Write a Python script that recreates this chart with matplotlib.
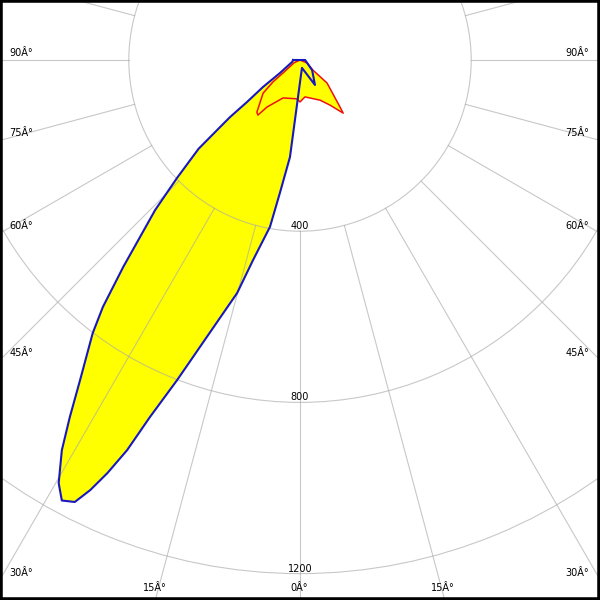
import numpy as np
import matplotlib
matplotlib.use("Agg")
import matplotlib.pyplot as plt

# photometric data, gamma angle (deg from nadir) and intensity (cd)
# C0 half (drawn to the left), from 90 deg down to 0
c0_ang = [90, 76, 57, 53.9, 51.6, 50.8, 50.0, 48.8, 46.2, 44.0, 40.5, 38.6, 37.2,
          34.5, 32.8, 31.4, 29.7, 28.4, 27.0, 26.0, 25.0, 23.9, 22.8, 21.0, 18.6,
          15.1, 13.2, 10.2, 8.6, 5.9, 0]
c0_cd = [16, 19, 56, 107, 158, 211, 244, 315, 398, 487, 636, 738, 801,
         907, 993, 1068, 1138, 1170, 1159, 1118, 1065, 997, 905, 801, 683,
         564, 480, 396, 314, 228, 52]
# C180 half (drawn to the right), from 0 up to 90
c180_ang = [14, 31, 50, 90]
c180_cd = [19, 68, 37, 12]

# C90 half (left), from 90 down to 0
c90_ang = [90, 65, 52.6, 51, 48, 39.6, 37.4, 35, 24, 4.4, 0]
c90_cd = [0, 15, 50, 81, 116, 158, 162, 134, 97, 91, 98]
# C270 half (right), from 0 up to 90
c270_ang = [7.7, 26.6, 33.7, 39.1, 40.4, 49.6, 52, 67, 90]
c270_cd = [87, 105, 127, 160, 144, 83, 38, 18, 0]

rings = [400, 800, 1200]
ring_labels = ["400", "800", "1200"]
spoke_step = 15
lab = "\u00c2\u00b0"

# angle labels at the picture edges (pixel x, pixel y)
edge_labels = [
    ("90" + lab, 21, 53), ("75" + lab, 21, 133), ("60" + lab, 21, 226),
    ("45" + lab, 21, 353), ("30" + lab, 21, 573), ("15" + lab, 155, 588),
    ("0" + lab, 299, 588), ("15" + lab, 443, 588), ("30" + lab, 577, 573),
    ("45" + lab, 577, 353), ("60" + lab, 577, 226), ("75" + lab, 577, 133),
    ("90" + lab, 577, 53),
]

W = 600
cx, cy = 300, 60          # pole position in pixels (from top-left)
px_per_cd = 0.428
rad_px = 700
rmax = rad_px / px_per_cd

fig = plt.figure(figsize=(6, 6), dpi=100)
ax = fig.add_axes([(cx - rad_px) / W, (W - cy - rad_px) / W,
                   2 * rad_px / W, 2 * rad_px / W], projection="polar")
ax.set_theta_zero_location("S")
ax.set_theta_direction(-1)
ax.set_ylim(0, rmax)
ax.spines["polar"].set_visible(False)
ax.set_xticks([])
ax.set_yticks(rings)
ax.set_yticklabels([])
ax.tick_params(length=0)
gcol = "#aaaaaa"
ax.yaxis.grid(True, color=gcol, alpha=0.65, lw=0.8)

for a in range(0, 360, spoke_step):
    t = np.radians(a)
    ax.plot([t, t], [rings[0], rmax], color=gcol, alpha=0.65, lw=0.8, zorder=1.5)

blue_t = np.radians(np.concatenate([c0_ang, -np.array(c180_ang)]))
blue_r = np.concatenate([c0_cd, c180_cd])
red_t = np.radians(np.concatenate([c90_ang, -np.array(c270_ang)]))
red_r = np.concatenate([c90_cd, c270_cd])

ax.fill(blue_t, blue_r, color="#ffff00", lw=0, zorder=1)
ax.fill(red_t, red_r, color="#ffff00", lw=0, zorder=1)
ax.plot(np.append(red_t, red_t[0]), np.append(red_r, red_r[0]),
        color="#ee1111", lw=1.1, zorder=2)
ax.plot(np.append(blue_t, blue_t[0]), np.append(blue_r, blue_r[0]),
        color="#1818c0", lw=1.5, zorder=3)

for r, s in zip(rings, ring_labels):
    ax.text(0, r, s, ha="center", va="bottom", fontsize=7, color="black")

for s, x, y in edge_labels:
    fig.text(x / W, 1 - y / W, s, ha="center", va="center", fontsize=7)

fig.add_artist(plt.Rectangle((0, 0), 1, 1, transform=fig.transFigure,
                             fill=False, edgecolor="black", lw=4, zorder=10))

fig.savefig("out.png", dpi=100)
